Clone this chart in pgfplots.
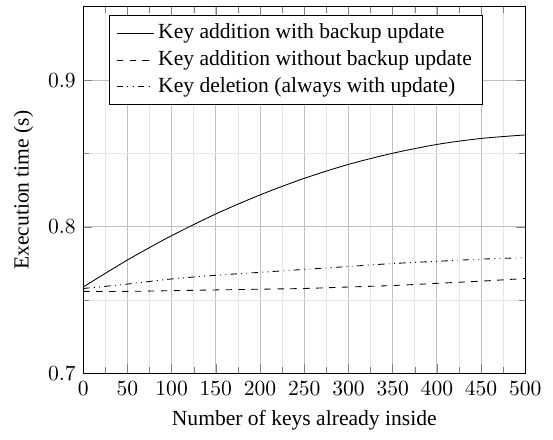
\documentclass[border={3pt 1pt 2pt 3pt}]{standalone}
\usepackage{fontspec}
\setmainfont{Liberation Serif}
\usepackage{pgfplots}
\pgfplotsset{compat=1.18}

\begin{document}
\begin{tikzpicture}
\begin{axis}[
    scale only axis,
    width=205pt,
    height=170pt,
    xmin=0, xmax=500,
    ymin=0.7, ymax=0.95,
    xtick={0,50,...,500},
    ytick={0.7,0.8,0.9},
    minor x tick num=1,
    minor y tick num=1,
    grid=both,
    major grid style={gray!50},
    minor grid style={gray!20},
    xlabel={Number of keys already inside},
    ylabel={Execution time (s)},
    legend style={at={(0.059,0.978)},anchor=north west,cells={anchor=west}},
    yticklabel style={/pgf/number format/fixed,/pgf/number format/precision=1},
]
\addplot[black, solid, smooth] coordinates {
(0,0.759) (50,0.7774) (100,0.7940) (150,0.8088) (200,0.8218) (250,0.8331)
(300,0.8426) (350,0.8502) (400,0.8562) (450,0.8603) (500,0.8627)};
\addplot[black, dashed, smooth] coordinates {
(0,0.756) (50,0.756) (100,0.7565) (150,0.757) (200,0.7575) (250,0.758)
(300,0.759) (350,0.760) (400,0.7615) (450,0.763) (500,0.7648)};
\addplot[black, dash dot dot, smooth] coordinates {
(0,0.758) (50,0.761) (100,0.7645) (150,0.767) (200,0.769) (250,0.771)
(300,0.773) (350,0.775) (400,0.7765) (450,0.778) (500,0.779)};
\legend{Key addition with backup update,Key addition without backup update,Key deletion (always with update)}
\end{axis}
\end{tikzpicture}
\end{document}
